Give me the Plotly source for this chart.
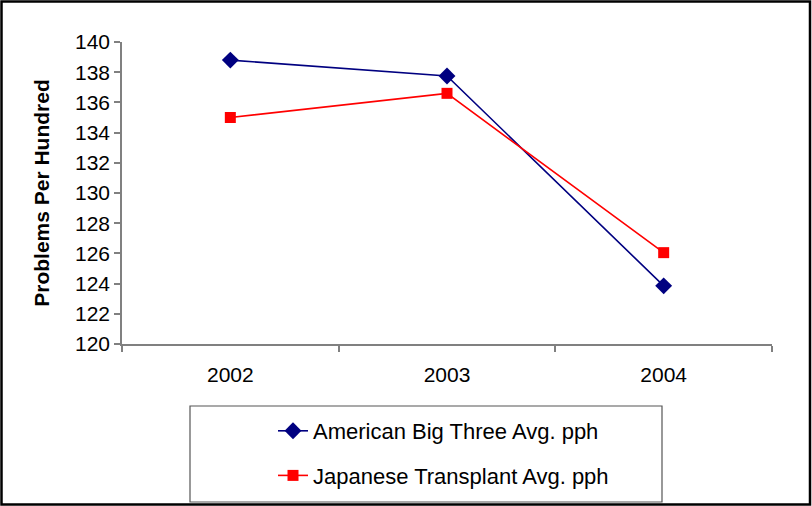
import plotly.graph_objects as go

years = ["2002", "2003", "2004"]
american = [138.8, 137.75, 123.85]
japanese = [135.0, 136.6, 126.05]
y_ticks = list(range(120, 141, 2))

W, H = 812, 506
L, R, T, B = 122, 40, 42, 162
pw, ph = W - L - R, H - T - B

def px_x(x):
    return (x - L) / pw

def px_y(y):
    return (H - B - y) / ph

fig = go.Figure()
fig.add_trace(go.Scatter(
    x=years, y=american, mode="lines+markers",
    name="American Big Three Avg. pph", legendgroup="a",
    line=dict(color="#000080", width=1.6),
    marker=dict(symbol="diamond", size=13, color="#000080"),
))
fig.add_trace(go.Scatter(
    x=years, y=japanese, mode="lines+markers",
    name="Japanese Transplant Avg. pph", legendgroup="b",
    line=dict(color="#FF0000", width=1.6),
    marker=dict(symbol="square", size=11, color="#FF0000"),
))

font = "Liberation Sans, Arial, sans-serif"
fig.update_layout(
    width=W, height=H,
    margin=dict(l=L, r=R, t=T, b=B, pad=0, autoexpand=False),
    paper_bgcolor="white", plot_bgcolor="white",
    font=dict(family=font, color="black", size=21),
    showlegend=True,
    legend=dict(
        x=px_x(273), y=px_y(410), xanchor="left", yanchor="top",
        bgcolor="rgba(0,0,0,0)", borderwidth=0,
        font=dict(family=font, size=22, color="black"),
        tracegroupgap=13, traceorder="grouped",
    ),
    xaxis=dict(
        type="category", range=[-0.5, 2.5],
        showgrid=False, zeroline=False,
        showline=True, linecolor="#808080", linewidth=1.5,
        ticks="outside", tickson="boundaries", ticklen=6,
        tickcolor="#808080", tickwidth=1.5,
        ticklabelstandoff=11,
        tickfont=dict(family=font, size=21),
    ),
    yaxis=dict(
        range=[120, 140], tickvals=y_ticks,
        showgrid=False, zeroline=False,
        showline=True, linecolor="#808080", linewidth=1.5,
        ticks="outside", ticklen=6, tickcolor="#808080", tickwidth=1.5,
        tickfont=dict(family=font, size=21),
        title=dict(text="<b>Problems Per Hundred</b>", standoff=20,
                   font=dict(family=font, size=21)),
    ),
    shapes=[
        dict(type="rect", xref="paper", yref="paper",
             x0=px_x(1.5), x1=px_x(810), y0=px_y(504.5), y1=px_y(1.5),
             line=dict(color="black", width=2.5), fillcolor="rgba(0,0,0,0)"),
        dict(type="rect", xref="paper", yref="paper",
             x0=px_x(190), x1=px_x(662), y0=px_y(502), y1=px_y(406),
             line=dict(color="#555555", width=1.2), fillcolor="rgba(0,0,0,0)"),
    ],
)

css_fix = (
    "var s=document.createElement('style');"
    "s.textContent='html,body{margin:0;padding:0;overflow:hidden;}"
    ".plotly-graph-div{position:fixed;top:0;left:0;}';"
    "document.head.appendChild(s);"
)
fig.write_html("out.html", post_script=css_fix,
               config={"displayModeBar": False, "responsive": False})
